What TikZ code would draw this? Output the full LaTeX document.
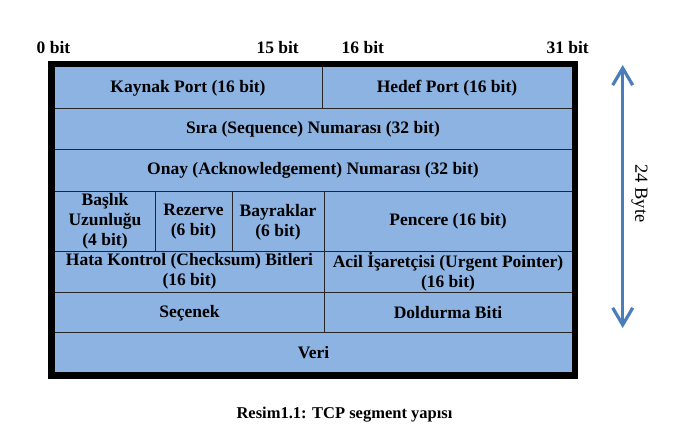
\documentclass[tikz,border=0pt]{standalone}
\usepackage{fontspec}
\setmainfont{Liberation Serif}
\usetikzlibrary{arrows.meta}
\definecolor{cellblue}{HTML}{8DB3E2}
\definecolor{arrowblue}{HTML}{4A7EBB}
\begin{document}
\begin{tikzpicture}[x=1pt,y=-1pt,
  lbl/.style={inner sep=0pt,align=center,font=\bfseries\fontsize{17.5}{19.8}\selectfont},
  bitlbl/.style={inner sep=0pt,font=\bfseries\fontsize{17.5}{19.8}\selectfont},
  gridline/.style={draw=black!85,line width=1pt},
  frame/.style={draw=black,line width=6.5pt},
  dblarrow/.style={draw=arrowblue,line width=3.2pt,{Straight Barb[length=17pt,width=20pt]}-{Straight Barb[length=17pt,width=20pt]}}
]
\useasboundingbox (0,0) rectangle (676,432);
% fill
\fill[cellblue] (55,67) rectangle (572,372);
% horizontal lines
\foreach \yy in {108,149,191,251,292,332}
  \draw[gridline] (55,\yy) -- (572,\yy);
% vertical lines
\draw[gridline] (322,67) -- (322,108);
\draw[gridline] (155,191) -- (155,251);
\draw[gridline] (232,191) -- (232,251);
\draw[gridline] (324,191) -- (324,332);
% frame
\draw[frame] (51.5,64) rectangle (575,375.5);

% bit labels
\node[bitlbl,anchor=west] (b0) at (36.5,48) {0 bit};
\node[bitlbl,anchor=east] (b15) at (299,48) {15 bit};
\node[bitlbl,anchor=west] (b16) at (341.5,48) {16 bit};
\node[bitlbl,anchor=east] (b31) at (589,48) {31 bit};

% cells
\node[lbl] (kaynak) at (188,88) {Kaynak Port (16 bit)};
\node[lbl] (hedef) at (447,88) {Hedef Port (16 bit)};
\node[lbl] (sira) at (313,129) {Sıra (Sequence) Numarası (32 bit)};
\node[lbl] (onay) at (313,170.5) {Onay (Acknowledgement) Numarası (32 bit)};
\node[lbl] (baslik) at (105,221) {Başlık\\Uzunluğu\\(4 bit)};
\node[lbl] (rezerve) at (193.5,222) {Rezerve\\(6 bit)};
\node[lbl] (bayrak) at (278,222) {Bayraklar\\(6 bit)};
\node[lbl] (pencere) at (448,221.5) {Pencere (16 bit)};
\node[lbl] (hata) at (189.5,271.5) {Hata Kontrol (Checksum) Bitleri\\(16 bit)};
\node[lbl] (acil) at (448,271.5) {Acil İşaretçisi (Urgent Pointer)\\(16 bit)};
\node[lbl] (secenek) at (189.5,313) {Seçenek};
\node[lbl] (doldurma) at (448,313) {Doldurma Biti};
\node[lbl] (veri) at (313.5,352.5) {Veri};

% byte arrow
\coordinate (atop) at (622.7,65);
\coordinate (abot) at (622.7,328);
\draw[dblarrow] (abot) -- (atop);
\node[inner sep=0pt,rotate=-90,font=\fontsize{18.5}{20}\selectfont] (byte) at (639.5,193.5) {24 Byte};

% caption
\node[inner sep=0pt,font=\bfseries\fontsize{16.5}{18}\selectfont] (cap) at (344.5,415) {Resim1.1: TCP segment yapısı};
\end{tikzpicture}
\end{document}
